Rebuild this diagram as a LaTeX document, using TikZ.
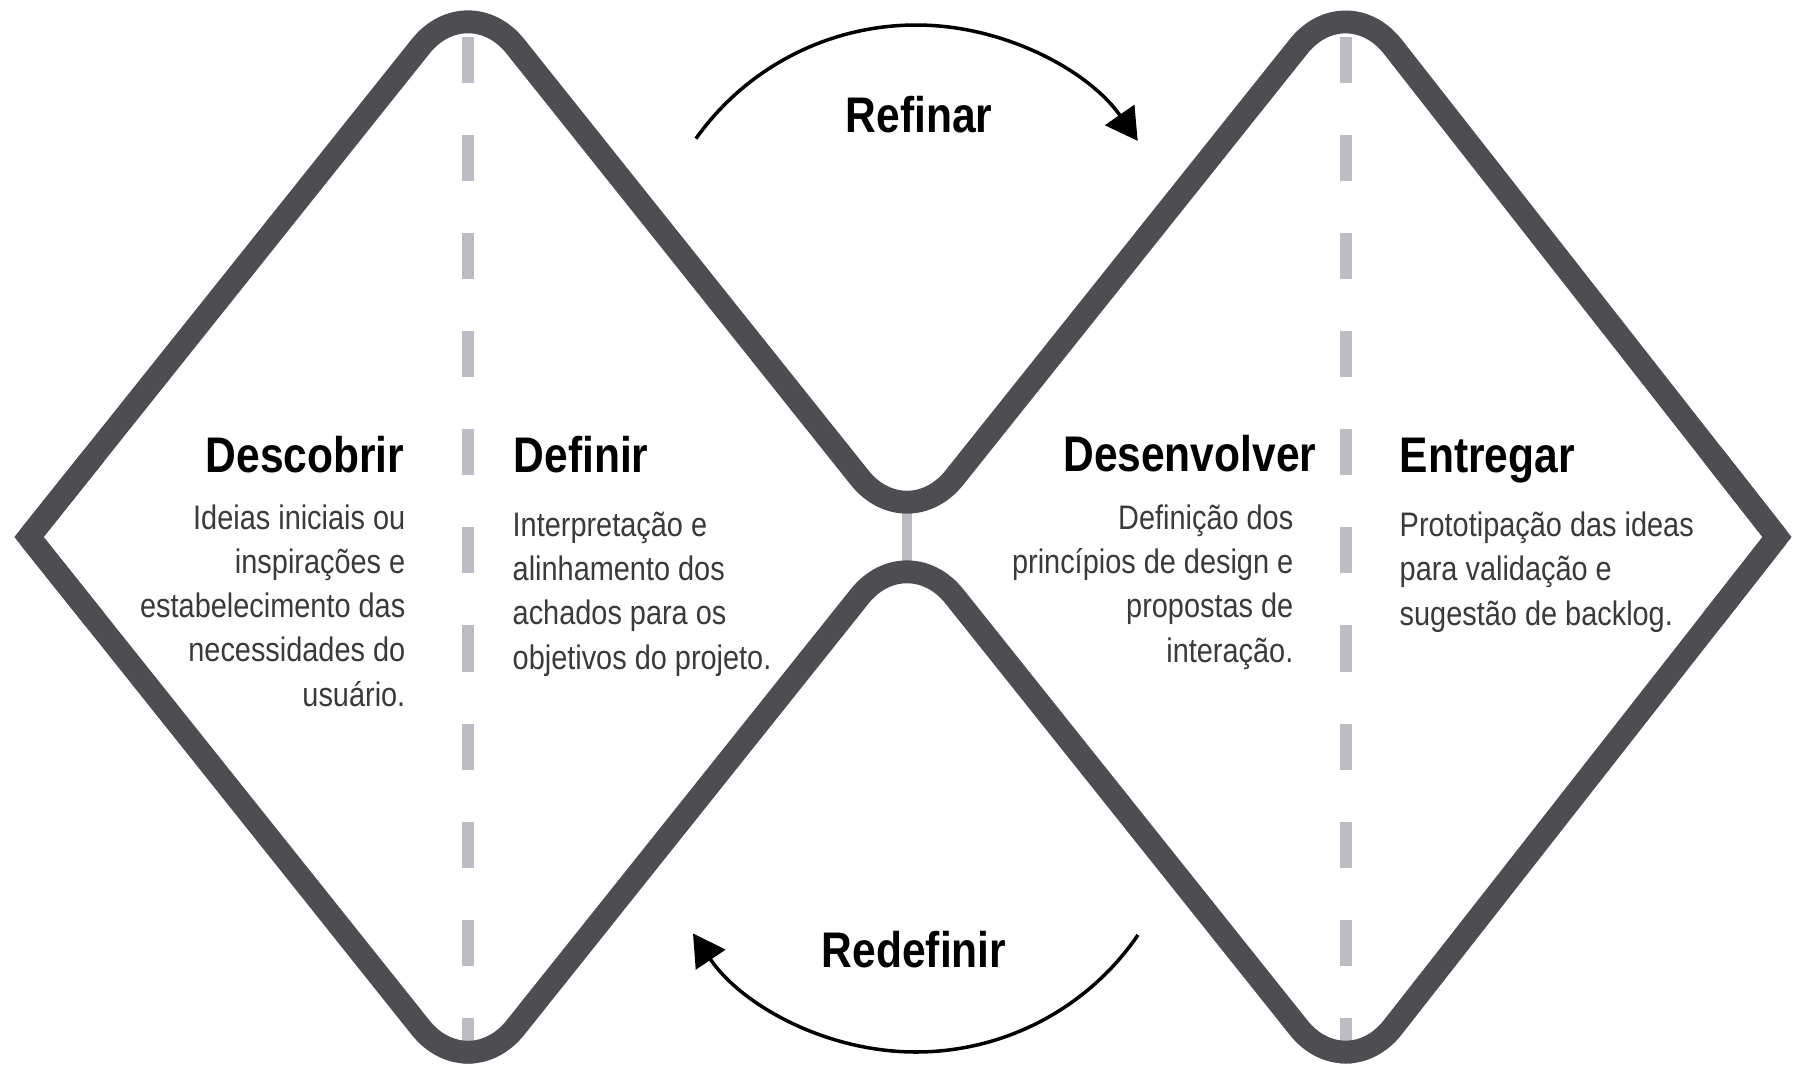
\documentclass[tikz,border=0pt]{standalone}
\usepackage{fontspec}
\setmainfont{Liberation Sans}[FakeStretch=0.85]
\usetikzlibrary{arrows.meta,calc}
\definecolor{outline}{RGB}{78,78,82}
\definecolor{dashgray}{RGB}{188,188,196}
\definecolor{bodytext}{RGB}{58,58,58}
\begin{document}
\begin{tikzpicture}[x=0.01cm,y=-0.01cm,
  outlinestroke/.style={draw=outline, line width=6.5pt, rounded corners=0.76cm},
  cornerwedge/.style={draw=outline, line width=6.5pt, line join=miter},
  dashdivider/.style={draw=dashgray, line width=3.4pt, dash pattern=on 13.09pt off 14.8pt},
  gapline/.style={draw=dashgray, line width=2.8pt},
  heading/.style={inner sep=0pt, font=\fontsize{14.23}{17}\selectfont\bfseries, text=black},
  bodyr/.style={inner sep=0pt, align=right, font=\fontsize{9.67}{12.52}\selectfont, text=bodytext},
  bodyl/.style={inner sep=0pt, align=left, font=\fontsize{9.67}{12.52}\selectfont, text=bodytext},
  loopline/.style={draw=black, line width=1pt, -{Triangle[length=9pt,width=10pt]}},
  looplabel/.style={inner sep=0pt, font=\fontsize{14.23}{17}\selectfont\bfseries, text=black}
]
\path[use as bounding box, fill=white] (0,0) rectangle (1800,1069);

% outline vertices
\coordinate (L) at (29,537);
\coordinate (T1) at (468,-13);
\coordinate (B1) at (468,1087);
\coordinate (C) at (907,537);
\coordinate (T2) at (1346,-13);
\coordinate (B2) at (1346,1087);
\coordinate (R) at (1777,537);

% dashed dividers
\coordinate (d1top) at (468,37);
\coordinate (d1bot) at (468,1068);
\coordinate (d2top) at (1346,37);
\coordinate (d2bot) at (1346,1068);
\draw[dashdivider] (d1top) -- (d1bot);
\draw[dashdivider] (d2top) -- (d2bot);

% small connector in the middle
\coordinate (gtop) at (907,505);
\coordinate (gbot) at (907,570);
\draw[gapline] (gtop) -- (gbot);

% the double-diamond outline
\draw[outlinestroke] (L) -- (T1) -- (C) -- (T2) -- (R);
\draw[outlinestroke] (L) -- (B1) -- (C) -- (B2) -- (R);
\draw[cornerwedge] ($(L)!0.15!(T1)$) -- (L) -- ($(L)!0.15!(B1)$);
\draw[cornerwedge] ($(R)!0.15!(T2)$) -- (R) -- ($(R)!0.15!(B2)$);

% headings
\node[heading, anchor=base east] (descobrir) at (405,472) {Descobrir};
\node[heading, anchor=base west] (definir) at (513,472) {Definir};
\node[heading, anchor=base east] (desenvolver) at (1317,471) {Desenvolver};
\node[heading, anchor=base west] (entregar) at (1399,472) {Entregar};

% body texts (base anchor = baseline of the last line)
\node[bodyr, anchor=base east] (descobrirtxt) at (406,706)
  {Ideias iniciais ou\\inspirações e\\estabelecimento das\\necessidades do\\usuário.};
\node[bodyl, anchor=base west] (definirtxt) at (512,669)
  {Interpretação e\\alinhamento dos\\achados para os\\objetivos do projeto.};
\node[bodyr, anchor=base east] (desenvolvertxt) at (1294,662)
  {Definição dos\\princípios de design e\\propostas de\\interação.};
\node[bodyl, anchor=base west] (entregartxt) at (1399,625)
  {Prototipação das ideas\\para validação e\\sugestão de backlog.};

% loop arrows
\coordinate (refc) at (916,295);
\coordinate (refS) at ($(refc)+(-144.6:270)$);
\draw[loopline] (refS) arc[start angle=-144.6, end angle=-34.8, radius=270];
\node[looplabel, anchor=base] (refinar) at (919,132) {Refinar};

\coordinate (redc) at (916,783);
\coordinate (redS) at ($(redc)+(34.4:269)$);
\draw[loopline] (redS) arc[start angle=34.4, end angle=146, radius=269];
\node[looplabel, anchor=base] (redefinir) at (914,967) {Redefinir};
\end{tikzpicture}
\end{document}
